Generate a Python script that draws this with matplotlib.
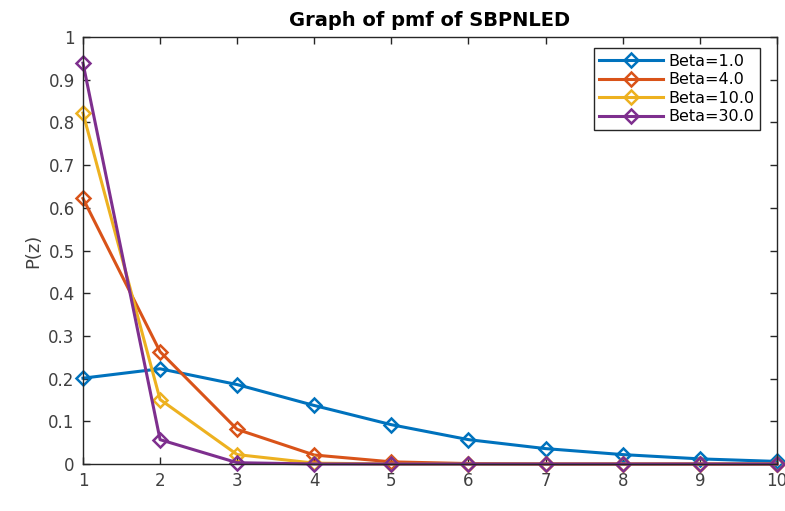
import numpy as np
from matplotlib import pyplot as plt

z = np.arange(1, 11)

# pmf values for each beta
p_beta1 = [0.201, 0.223, 0.186, 0.137, 0.092, 0.057, 0.036, 0.022, 0.012, 0.006]
p_beta4 = [0.622, 0.263, 0.081, 0.021, 0.005, 0.001, 0.0, 0.0, 0.0, 0.0]
p_beta10 = [0.822, 0.151, 0.022, 0.002, 0.0, 0.0, 0.0, 0.0, 0.0, 0.0]
p_beta30 = [0.939, 0.057, 0.003, 0.0, 0.0, 0.0, 0.0, 0.0, 0.0, 0.0]

labels = ['Beta=1.0', 'Beta=4.0', 'Beta=10.0', 'Beta=30.0']
colors = ['#0072BD', '#D95319', '#EDB120', '#7E2F8E']

fig = plt.figure(figsize=(7.85, 5.11), dpi=100)
ax = fig.add_axes([0.1057, 0.092, 0.884, 0.8355])

for p, lab, c in zip([p_beta1, p_beta4, p_beta10, p_beta30], labels, colors):
    ax.plot(z, p, '-D', color=c, lw=2.2, ms=7.5, mfc='none', mew=1.8, label=lab,
            clip_on=False)

ax.set_xlim(1, 10)
ax.set_ylim(0, 1)
ax.set_xticks(z)
ax.set_yticks(np.arange(0, 1.01, 0.1))
ax.set_yticklabels(['0'] + ['%.1f' % v for v in np.arange(0.1, 0.95, 0.1)] + ['1'])

grey = '#262626'
for s in ax.spines.values():
    s.set_color(grey)
    s.set_linewidth(1.0)
ax.tick_params(direction='in', top=True, right=True, length=5, width=1,
               colors=grey, labelsize=12, labelcolor='#404040', pad=6)

ax.set_title('Graph of pmf of SBPNLED', fontsize=14, fontweight='bold', pad=8)
ax.set_ylabel('P(z)', fontsize=13, color='#404040')
ax.set_xlabel('z', fontsize=13, color='#404040', labelpad=14)

leg = ax.legend(loc='upper right', bbox_to_anchor=(0.982, 0.985), fontsize=11.5,
                fancybox=False, framealpha=1, edgecolor=grey, borderpad=0.35,
                handlelength=4.0, labelspacing=0.22, handletextpad=0.3,
                borderaxespad=0.3)
leg.get_frame().set_linewidth(1.0)

fig.savefig('out.png', dpi=100)
